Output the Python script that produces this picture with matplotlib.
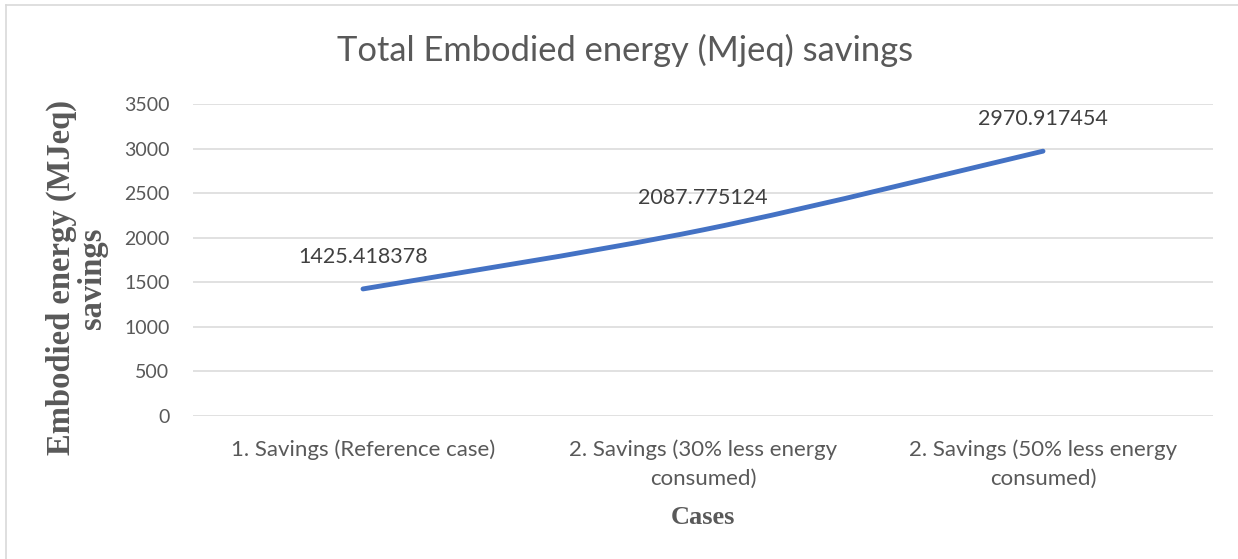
import matplotlib
matplotlib.use("Agg")
import matplotlib.pyplot as plt
from matplotlib.path import Path
from matplotlib.patches import PathPatch
from matplotlib.lines import Line2D

categories = [
    "1. Savings (Reference case)",
    "2. Savings (30% less energy\nconsumed)",
    "2. Savings (50% less energy\nconsumed)",
]
savings = [1425.418378, 2087.775124, 2970.917454]
labels = ["1425.418378", "2087.775124", "2970.917454"]
y_ticks = [0, 500, 1000, 1500, 2000, 2500, 3000, 3500]

W, H = 1238, 559
fig = plt.figure(figsize=(W / 100, H / 100), dpi=100)
ax = fig.add_axes([193 / W, 1 - 416 / H, 1020 / W, 312 / H])

gray = "#595959"
sans = "Lato"
serif = "Liberation Serif"

# smoothed line like Excel (Catmull-Rom through the points)
xs = list(range(len(savings)))
pts = list(zip(xs, savings))
ext = [pts[0]] + pts + [pts[-1]]
verts = [pts[0]]
codes = [Path.MOVETO]
for i in range(len(pts) - 1):
    p0, p1, p2, p3 = ext[i], ext[i + 1], ext[i + 2], ext[i + 3]
    c1 = (p1[0] + (p2[0] - p0[0]) / 6, p1[1] + (p2[1] - p0[1]) / 6)
    c2 = (p2[0] - (p3[0] - p1[0]) / 6, p2[1] - (p3[1] - p1[1]) / 6)
    verts += [c1, c2, p2]
    codes += [Path.CURVE4] * 3
ax.add_patch(PathPatch(Path(verts, codes), facecolor="none", edgecolor="#4472C4",
                       lw=3.5, capstyle="round", zorder=3))

for x, v, t in zip(xs, savings, labels):
    ax.annotate(t, (x, v), xytext=(0, 23), textcoords="offset points",
                ha="center", va="center", fontsize=15.5, color="#404040", family=sans)

ax.set_xlim(-0.5, len(savings) - 0.5)
ax.set_ylim(0, 3500)
ax.set_yticks(y_ticks)
ax.set_xticks(xs)
ax.set_xticklabels(categories, fontsize=16, color=gray, family=sans, linespacing=1.55)
ax.set_yticklabels([str(t) for t in y_ticks], fontsize=14, color=gray, family=sans)
ax.tick_params(axis="both", length=0)
ax.tick_params(axis="y", pad=17)
ax.tick_params(axis="x", pad=17)
ax.grid(axis="y", color="#d9d9d9", lw=1.1)
ax.set_axisbelow(True)
for s in ax.spines.values():
    s.set_visible(False)

fig.text(625 / W, 1 - 50 / H, "Total Embodied energy (Mjeq) savings", ha="center",
         va="center", fontsize=24.8, color=gray, family=sans)
fig.text(77 / W, 1 - 278 / H, "Embodied energy (MJeq)\nsavings", rotation=90,
         ha="center", va="center", fontsize=23.5, color=gray, family=serif,
         weight="bold", linespacing=1.0)
fig.text(703 / W, 1 - 517 / H, "Cases", ha="center", va="center", fontsize=19,
         color=gray, family=serif, weight="bold")

# chart border (top and left visible)
fig.add_artist(Line2D([6 / W, 1], [1 - 5 / H, 1 - 5 / H], color="#d9d9d9", lw=1.2))
fig.add_artist(Line2D([6 / W, 6 / W], [0, 1 - 5 / H], color="#d9d9d9", lw=1.2))

plt.savefig("out.png", dpi=100)
plt.close()
